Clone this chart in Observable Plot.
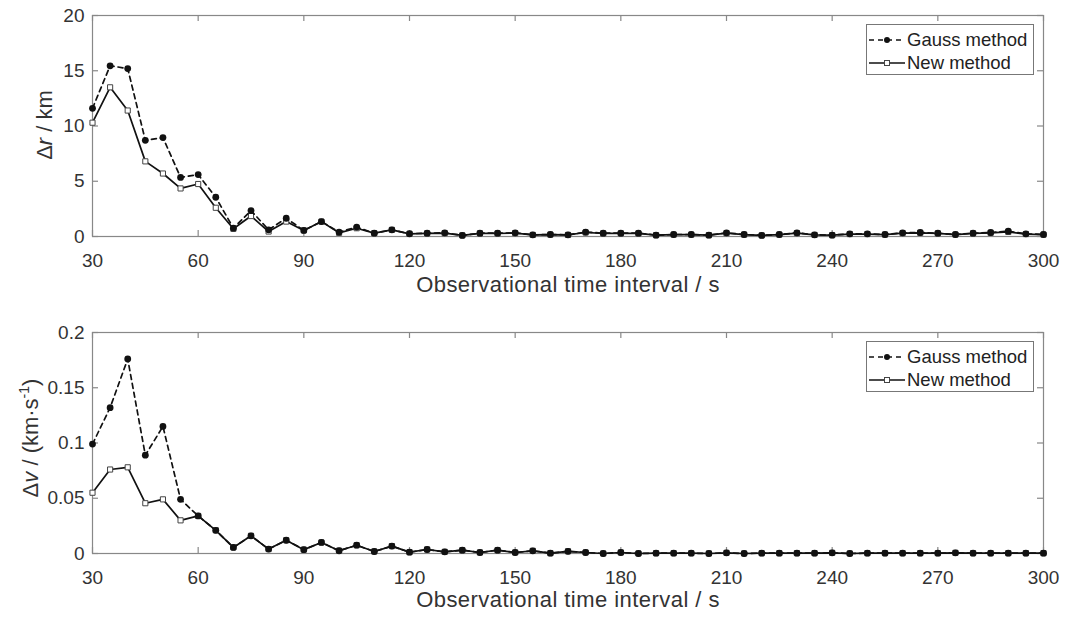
<!DOCTYPE html>
<html>
<head>
<meta charset="utf-8">
<script src="https://cdn.jsdelivr.net/npm/d3@7"></script>
<script src="https://cdn.jsdelivr.net/npm/@observablehq/plot@0.6"></script>
<style>
  body { margin: 0; background: #fff; }
  #wrap { position: relative; width: 1069px; height: 618px; font-family: "Liberation Sans", Arial, sans-serif; color: #333; overflow: hidden; }
  .abs { position: absolute; }
  .ylab { position: absolute; font-size: 22px; white-space: nowrap; transform: translate(-50%, -50%) rotate(-90deg); }
  .xlab { position: absolute; font-size: 22px; letter-spacing: 0.45px; white-space: nowrap; transform: translate(-50%, -50%); }
  .legend { position: absolute; background: #fff; border: 1px solid #777; box-sizing: border-box; font-size: 18.5px; color: #222; }
  .legend .row { position: absolute; left: 0; height: 22px; display: flex; align-items: center; }
  .legend svg { display: block; }
</style>
</head>
<body>
<div id="wrap">
  <div id="p1" class="abs" style="left:0;top:0"></div>
  <div id="p2" class="abs" style="left:0;top:300px"></div>
  <div class="ylab" style="left:45px;top:125px">Δ<i>r</i> / km</div>
  <div class="ylab" style="left:30px;top:438px">Δ<i>v</i> / (km·s<sup style="font-size:14px">-1</sup>)</div>
  <div class="xlab" style="left:568px;top:285px">Observational time interval / s</div>
  <div class="xlab" style="left:568px;top:600px">Observational time interval / s</div>
  <div id="leg1"></div>
  <div id="leg2"></div>
</div>
<script>
// x values: observational time interval (s)
const intervals = [30,35,40,45,50,55,60,65,70,75,80,85,90,95,100,105,110,115,120,
  125,130,135,140,145,150,155,160,165,170,175,180,185,190,195,200,205,210,215,220,225,230,
  235,240,245,250,255,260,265,270,275,280,285,290,295,300];

// Δr (km)
const drGauss = [11.6,15.45,15.2,8.7,8.95,5.35,5.6,3.55,0.75,2.35,0.6,1.65,0.55,1.35,0.4,0.85,0.3,0.6,0.25,
  0.3,0.33,0.1,0.3,0.3,0.33,0.15,0.18,0.15,0.4,0.3,0.3,0.3,0.12,0.18,0.18,0.12,0.33,0.18,0.1,0.18,0.33,
  0.15,0.12,0.24,0.24,0.18,0.33,0.36,0.3,0.18,0.3,0.36,0.48,0.24,0.18];
const drNew = [10.3,13.5,11.4,6.8,5.7,4.35,4.75,2.6,0.7,1.85,0.45,1.35,0.55,1.35,0.33,0.75,0.3,0.6,0.24,
  0.28,0.3,0.1,0.28,0.28,0.3,0.14,0.17,0.14,0.36,0.28,0.28,0.28,0.12,0.17,0.17,0.12,0.3,0.17,0.1,0.17,0.3,
  0.14,0.12,0.22,0.22,0.17,0.3,0.33,0.28,0.17,0.28,0.33,0.42,0.22,0.17];

// Δv (km/s)
const dvGauss = [0.099,0.132,0.176,0.089,0.115,0.049,0.034,0.021,0.0055,0.016,0.004,0.012,0.0035,0.010,0.0025,0.0075,0.0018,0.0067,0.0012,
  0.0036,0.0015,0.003,0.0009,0.003,0.0009,0.0024,0.0003,0.002,0.0009,0.0,0.0009,0.0,0.0003,0.0003,0.0003,0.0,0.0006,0.0,0.0003,0.0003,0.0003,
  0.0003,0.0006,0.0,0.0003,0.0003,0.0003,0.0003,0.0003,0.0006,0.0003,0.0003,0.0003,0.0003,0.0003];
const dvNew = [0.055,0.076,0.078,0.0455,0.049,0.030,0.034,0.021,0.0055,0.016,0.004,0.012,0.0035,0.010,0.0025,0.0075,0.0018,0.0067,0.0012,
  0.0036,0.0015,0.003,0.0009,0.003,0.0009,0.0024,0.0003,0.002,0.0009,0.0,0.0009,0.0,0.0003,0.0003,0.0003,0.0,0.0006,0.0,0.0003,0.0003,0.0003,
  0.0003,0.0006,0.0,0.0003,0.0003,0.0003,0.0003,0.0003,0.0006,0.0003,0.0003,0.0003,0.0003,0.0003];

const xTicks = [30,60,90,120,150,180,210,240,270,300];
const drTicks = [0,5,10,15,20];
const dvTicks = [0,0.05,0.1,0.15,0.2];
const seriesNames = ["Gauss method", "New method"];

const axisColor = "#888";
const textColor = "#333";

function panel(gauss, news, yDomain, yTicks, height, marginTop, marginBottom) {
  const g = intervals.map((x, i) => ({x, y: gauss[i]}));
  const n = intervals.map((x, i) => ({x, y: news[i]}));
  const W = 1069, ml = 92, mr = 26;
  const ph = height - marginTop - marginBottom;
  const pw = W - ml - mr;
  const tk = 6;
  return Plot.plot({
    width: W,
    height,
    marginLeft: ml,
    marginRight: mr,
    marginTop,
    marginBottom,
    style: {fontFamily: "'Liberation Sans', Arial, sans-serif", background: "white", color: textColor, overflow: "visible"},
    x: {domain: [30, 300]},
    y: {domain: yDomain},
    marks: [
      Plot.frame({stroke: axisColor, strokeWidth: 1.2}),
      // inward ticks on all four sides
      Plot.ruleX(xTicks, {x: d => d, insetTop: ph - tk, stroke: axisColor, strokeWidth: 1.2}),
      Plot.ruleX(xTicks, {x: d => d, insetBottom: ph - tk, stroke: axisColor, strokeWidth: 1.2}),
      Plot.ruleY(yTicks, {y: d => d, insetRight: pw - tk, stroke: axisColor, strokeWidth: 1.2}),
      Plot.ruleY(yTicks, {y: d => d, insetLeft: pw - tk, stroke: axisColor, strokeWidth: 1.2}),
      // tick labels
      Plot.axisX(xTicks, {anchor: "bottom", tickSize: 0, tickPadding: 17, fontSize: 19, fill: textColor, label: null}),
      Plot.axisY(yTicks, {anchor: "left", tickSize: 0, tickPadding: 8, fontSize: 19, fill: textColor, label: null, tickFormat: d => String(d)}),
      // New method
      Plot.line(n, {x: "x", y: "y", stroke: "#111", strokeWidth: 1.7}),
      Plot.dot(n, {x: "x", y: "y", symbol: "square", r: 2.9, fill: "white", stroke: "#444", strokeWidth: 1}),
      // Gauss method
      Plot.line(g, {x: "x", y: "y", stroke: "#111", strokeWidth: 1.7, strokeDasharray: "5,4"}),
      Plot.dot(g, {x: "x", y: "y", r: 3.4, fill: "#111"})
    ]
  });
}

document.getElementById("p1").appendChild(panel(drGauss, drNew, [0, 20], drTicks, 300, 15, 64));
document.getElementById("p2").appendChild(panel(dvGauss, dvNew, [0, 0.2], dvTicks, 318, 32, 65));

function legend(id, left, top) {
  const el = document.getElementById(id);
  el.className = "legend";
  Object.assign(el.style, {left: left + "px", top: top + "px", width: "168px", height: "51px"});
  const samples = [
    `<svg width="40" height="12"><line x1="2" y1="6" x2="38" y2="6" stroke="#111" stroke-width="1.5" stroke-dasharray="5,4"/><circle cx="20" cy="6" r="3" fill="#111"/></svg>`,
    `<svg width="40" height="12"><line x1="2" y1="6" x2="38" y2="6" stroke="#111" stroke-width="1.5"/><rect x="17.5" y="3.5" width="5" height="5" fill="white" stroke="#444"/></svg>`
  ];
  el.innerHTML = seriesNames.map((name, i) =>
    `<div class="row" style="top:${4 + i * 23}px">${samples[i]}<span>${name}</span></div>`
  ).join("");
}
legend("leg1", 866, 24);
legend("leg2", 866, 341);
</script>
</body>
</html>
